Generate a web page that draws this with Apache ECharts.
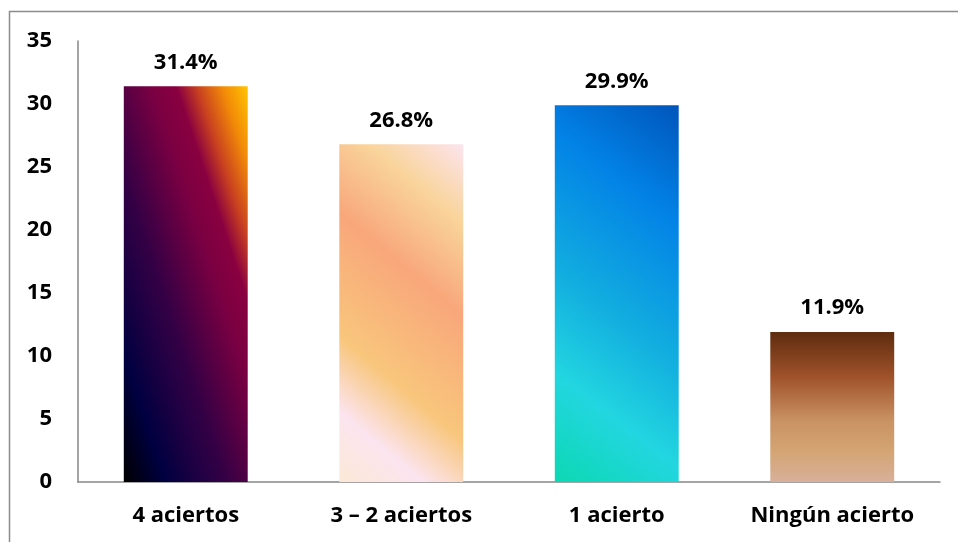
<!DOCTYPE html>
<html>
<head>
<meta charset="utf-8">
<script src="https://cdn.jsdelivr.net/npm/echarts@6/dist/echarts.min.js"></script>
<style>
html,body{margin:0;padding:0;background:#fff;}
#main{width:958px;height:542px;}
</style>
</head>
<body>
<div id="main"></div>
<script>
var categories = ['4 aciertos', '3 \u2013 2 aciertos', '1 acierto', 'Ning\u00fan acierto'];
var values = [31.4, 26.8, 29.9, 11.9];
var yTicks = [0, 5, 10, 15, 20, 25, 30, 35];

var FONT = '"Open Sans"';
var gradients = [
  {type:'linear', x:-0.427, y:0.597, x2:1.429, y2:0.403, colorStops:[
    {offset:0, color:'#000000'},
    {offset:0.16, color:'#000040'},
    {offset:0.4, color:'#350045'},
    {offset:0.62, color:'#7a0042'},
    {offset:0.72, color:'#8a0040'},
    {offset:0.8, color:'#c84020'},
    {offset:0.9, color:'#f28a08'},
    {offset:1, color:'#ffc400'}]},
  {type:'linear', x:-0.378, y:0.884, x2:1.378, y2:0.116, colorStops:[
    {offset:0, color:'#fbe9d6'},
    {offset:0.16, color:'#fce4ef'},
    {offset:0.33, color:'#f8c67c'},
    {offset:0.61, color:'#f8a77b'},
    {offset:0.82, color:'#f9d49b'},
    {offset:1, color:'#fce4ef'}]},
  {type:'linear', x:-0.414, y:0.897, x2:1.414, y2:0.103, colorStops:[
    {offset:0, color:'#0cd8b2'},
    {offset:0.23, color:'#22d6e0'},
    {offset:0.45, color:'#12aedf'},
    {offset:0.75, color:'#0282e6'},
    {offset:1, color:'#0055bb'}]},
  {type:'linear', x:0, y:0, x2:0, y2:1, colorStops:[
    {offset:0, color:'#5e2c0e'},
    {offset:0.3, color:'#a0522a'},
    {offset:0.59, color:'#c99263'},
    {offset:0.79, color:'#d4a472'},
    {offset:1, color:'#d8b09a'}]}
];

var chart = echarts.init(document.getElementById('main'), null, {renderer:'canvas'});
chart.setOption({
  animation: false,
  backgroundColor: '#ffffff',
  graphic: [{
    type: 'rect',
    shape: {x: 9.5, y: 11.5, width: 1000, height: 600},
    style: {fill: 'none', stroke: '#8c8c8c', lineWidth: 1.5},
    silent: true
  }],
  grid: {left: 78, right: 18, top: 41, bottom: 60, containLabel: false},
  xAxis: {
    type: 'category',
    data: categories,
    axisLine: {lineStyle: {color: '#868686', width: 1.5}},
    axisTick: {show: false},
    axisLabel: {color: '#000', fontFamily: FONT, fontWeight: 'bold', fontSize: 22, margin: 23}
  },
  yAxis: {
    type: 'value',
    min: 0, max: 35, interval: 5,
    axisLine: {show: true, lineStyle: {color: '#868686', width: 1.5}},
    axisTick: {show: false},
    splitLine: {show: false},
    axisLabel: {color: '#000', fontFamily: FONT, fontWeight: 'bold', fontSize: 22, margin: 26,
      formatter: function (v) { return yTicks.indexOf(v) >= 0 ? String(v) : ''; }}
  },
  series: [{
    type: 'bar',
    barCategoryGap: '42.5%',
    data: values.map(function (v, i) { return {value: v, itemStyle: {color: gradients[i]}}; }),
    label: {
      show: true, position: 'top', distance: 13,
      color: '#000', fontFamily: FONT, fontWeight: 'bold', fontSize: 22,
      formatter: function (p) { return p.value.toFixed(1) + '%'; }
    }
  }]
});
</script>
</body>
</html>
